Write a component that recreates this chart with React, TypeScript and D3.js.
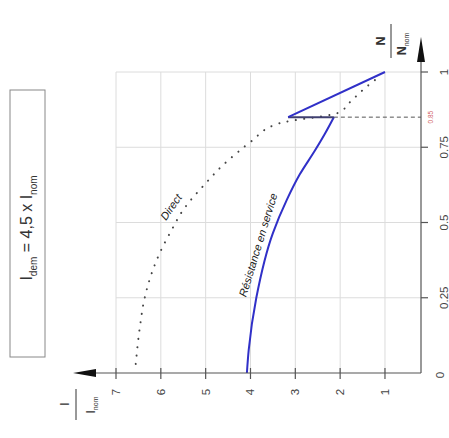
import React from "react";
import * as d3 from "d3";

// I / I_nom (horizontal on screen, increasing to the left) and N / N_nom (vertical)
const iTicks = [1, 2, 3, 4, 5, 6, 7];
const nTicks = [0.25, 0.5, 0.75, 1];
const nTickLabels = ["0.25", "0.5", "0.75", "1"];

// "Résistance en service" curve (lower smooth part)
const serviceI = [4.08, 4.04, 3.87, 3.5, 3.19, 2.9, 2.58, 2.34, 2.14];
const serviceN = [0, 0.076, 0.25, 0.465, 0.575, 0.66, 0.735, 0.795, 0.85];
// jump segment then top segment
const jumpI = [2.14, 3.16];
const jumpN = [0.85, 0.85];
const topI = [3.16, 1.0];
const topN = [0.85, 1.0];

// "Direct" dotted curve
const directI = [6.56, 6.47, 6.36, 6.02, 5.76, 5.51, 4.97, 4.62, 4.28, 3.98, 3.35, 2.05, 1.78, 1.45, 1.12];
const directN = [0.03, 0.15, 0.25, 0.4, 0.475, 0.54, 0.635, 0.69, 0.734, 0.77, 0.83, 0.864, 0.9, 0.946, 0.985];

const markerN = 0.85;

const W = 449;
const H = 438;

export default function App() {
  const x = d3.scaleLinear().domain([0, 7]).range([429.8, 116]);
  const y = d3.scaleLinear().domain([0, 1]).range([373, 72]);
  const axisX = 421;
  const axisY = 373;
  const font = "'Liberation Sans', Arial, sans-serif";

  const toPts = (is: number[], ns: number[]) => is.map((v, k) => [v, ns[k]] as [number, number]);
  const smooth = d3
    .line<[number, number]>()
    .x((d) => x(d[0]))
    .y((d) => y(d[1]))
    .curve(d3.curveMonotoneY);
  const straight = d3
    .line<[number, number]>()
    .x((d) => x(d[0]))
    .y((d) => y(d[1]));

  const blue = "#3030c8";
  const axisCol = "#555";
  const gridCol = "#dcdcdc";

  return (
    <svg
      width={W}
      height={H}
      style={{ position: "absolute", left: 0, top: 0, background: "#fff" }}
      fontFamily={font}
    >
      <rect x={0} y={0} width={W} height={H} fill="#fff" />

      {/* grid */}
      {iTicks.map((t) => (
        <line key={"gv" + t} x1={x(t)} x2={x(t)} y1={y(0)} y2={y(1)} stroke={gridCol} strokeWidth={1} />
      ))}
      {nTicks.map((t) => (
        <line key={"gh" + t} x1={x(7)} x2={axisX} y1={y(t)} y2={y(t)} stroke={gridCol} strokeWidth={1} />
      ))}

      {/* dashed marker at 0.85 */}
      <line
        x1={x(jumpI[0])}
        x2={axisX}
        y1={y(markerN)}
        y2={y(markerN)}
        stroke="#555"
        strokeWidth={1}
        strokeDasharray="4 3"
      />

      {/* Direct dotted curve */}
      <path
        d={smooth(toPts(directI, directN)) || ""}
        fill="none"
        stroke="#444"
        strokeWidth={2}
        strokeLinecap="round"
        strokeDasharray="0.1 8.3"
      />

      {/* Résistance en service */}
      <path d={smooth(toPts(serviceI, serviceN)) || ""} fill="none" stroke={blue} strokeWidth={2} />
      <path d={straight(toPts(jumpI, jumpN)) || ""} fill="none" stroke="#404070" strokeWidth={2} />
      <path d={straight(toPts(topI, topN)) || ""} fill="none" stroke={blue} strokeWidth={2} />

      {/* axes */}
      <line x1={axisX} x2={95} y1={axisY} y2={axisY} stroke={axisCol} strokeWidth={1.2} />
      <path d={`M73,${axisY} L96,${axisY - 4} L96,${axisY + 4} Z`} fill="#111" />
      <line x1={axisX} x2={axisX} y1={axisY} y2={62} stroke={axisCol} strokeWidth={1.2} />
      <path d={`M${axisX},37 L${axisX - 4},62 L${axisX + 4},62 Z`} fill="#111" />

      {iTicks.map((t) => (
        <g key={"it" + t}>
          <line x1={x(t)} x2={x(t)} y1={axisY - 5} y2={axisY + 6} stroke={axisCol} strokeWidth={1.2} />
          <text
            transform={`translate(${x(t)},392) rotate(-90)`}
            textAnchor="middle"
            dominantBaseline="central"
            fontSize={11.5}
            fill="#444"
          >
            {t}
          </text>
        </g>
      ))}
      {nTicks.map((t, k) => (
        <g key={"nt" + t}>
          <line x1={axisX} x2={axisX + 7} y1={y(t)} y2={y(t)} stroke={axisCol} strokeWidth={1.2} />
          <text
            transform={`translate(444,${y(t)}) rotate(-90)`}
            textAnchor="middle"
            dominantBaseline="central"
            fontSize={11.5}
            fill="#444"
          >
            {nTickLabels[k]}
          </text>
        </g>
      ))}
      <text
        transform={`translate(440,375) rotate(-90)`}
        textAnchor="middle"
        dominantBaseline="central"
        fontSize={11.5}
        fill="#444"
      >
        0
      </text>
      <text
        transform={`translate(430,${y(markerN)}) rotate(-90)`}
        textAnchor="middle"
        dominantBaseline="central"
        fontSize={6.5}
        fill="#d06060"
      >
        0.85
      </text>

      {/* N / N_nom label */}
      <text transform="translate(385,41) rotate(-90)" textAnchor="middle" fontSize={12.5} fontWeight="bold" fill="#333">
        N
      </text>
      <line x1={391} x2={391} y1={24} y2={58} stroke="#333" strokeWidth={1} />
      <text transform="translate(406,44) rotate(-90)" textAnchor="middle" fontSize={12.5} fontWeight="bold" fill="#333">
        N<tspan fontSize={7} fontWeight="normal" dy={3}>nom</tspan>
      </text>

      {/* I / I_nom label */}
      <text transform="translate(69,404) rotate(-90)" textAnchor="middle" fontSize={12} fill="#333">
        I
      </text>
      <line x1={76} x2={76} y1={389} y2={420} stroke="#333" strokeWidth={1} />
      <text transform="translate(95,405) rotate(-90)" textAnchor="middle" fontSize={12} fill="#333">
        I<tspan fontSize={7} dy={3}>nom</tspan>
      </text>

      {/* curve annotations */}
      <text
        transform={`translate(171,207) rotate(-55)`}
        textAnchor="middle"
        dominantBaseline="central"
        fontSize={11}
        fontStyle="italic"
        fill="#222"
      >
        Direct
      </text>
      <text
        transform={`translate(258,245) rotate(-73)`}
        textAnchor="middle"
        dominantBaseline="central"
        fontSize={11}
        fontStyle="italic"
        fill="#222"
      >
        Résistance en service
      </text>

      {/* boxed formula */}
      <rect x={10} y={90} width={35} height={267} fill="#fff" stroke="#888" strokeWidth={1} />
      <text transform="translate(32,228) rotate(-90)" textAnchor="middle" fontSize={16} fill="#333">
        I<tspan fontSize={10} dy={5}>dem</tspan>
        <tspan dy={-5}> = 4,5 x I</tspan>
        <tspan fontSize={10} dy={5}>nom</tspan>
      </text>
    </svg>
  );
}
